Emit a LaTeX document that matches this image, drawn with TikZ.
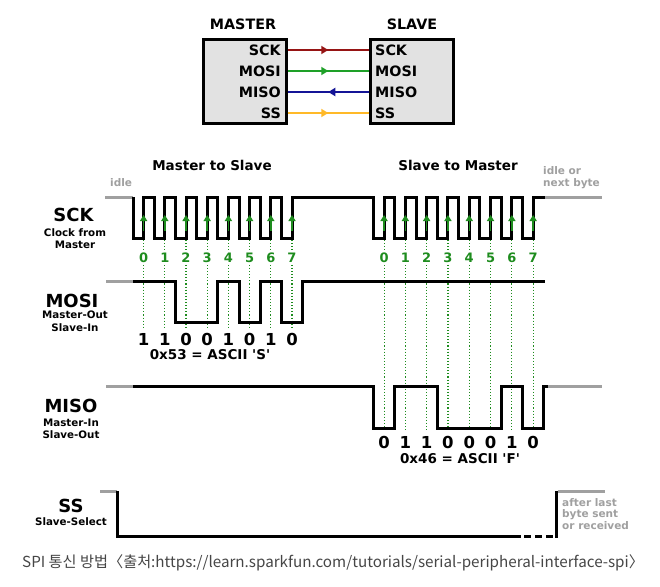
\documentclass[tikz,border=0pt]{standalone}
\usepackage{fontspec}
\setmainfont{DejaVu Sans}
\newfontfamily\krfont{Noto Sans CJK KR}
\usetikzlibrary{arrows.meta, positioning, decorations.markings}
\definecolor{sckred}{RGB}{150,20,20}
\definecolor{mosigreen}{RGB}{30,160,40}
\definecolor{misoblue}{RGB}{20,20,150}
\definecolor{ssorange}{RGB}{255,185,40}
\definecolor{edgegreen}{RGB}{30,140,30}
\definecolor{idlegray}{RGB}{160,160,160}
\definecolor{boxgray}{RGB}{226,226,226}
\definecolor{capgray}{RGB}{70,70,70}

\begin{document}
\begin{tikzpicture}[x=1pt, y=-1pt,
   every node/.style={inner sep=0pt},
   chip/.style={draw, line width=3pt, fill=boxgray,
                minimum width=83pt, minimum height=83pt},
   pin/.style={font=\fontsize{14.3}{15}\selectfont\bfseries},
   sig/.style={font=\fontsize{18}{19}\selectfont\bfseries},
   sub/.style={font=\fontsize{10.3}{12.6}\selectfont\bfseries, align=center},
   note/.style={font=\fontsize{10.5}{11.5}\selectfont\bfseries,
                text=idlegray, align=left},
   wire/.style={line width=2.8pt, postaction={decorate},
      decoration={markings, mark=at position 0.5 with
                  {\arrow{Triangle[length=7pt, width=8pt]}}}},
   wave/.style={line width=3pt},
   idle/.style={line width=3pt, idlegray},
   tick/.style={edgegreen, dotted, line width=1.1pt},
   edge/.style={edgegreen, line width=1.5pt, -{Triangle[length=6pt, width=7pt]}},
   bitnum/.style={font=\fontsize{13}{13}\selectfont\bfseries,
                  text=edgegreen, fill=white, inner sep=1pt},
   bit/.style={font=\fontsize{16.5}{16}\selectfont\bfseries},
   hex/.style={font=\fontsize{13.5}{14}\selectfont\bfseries}]
  \fill[white] (0,0) rectangle (660,586);
  \useasboundingbox (0,0) rectangle (660,586);

  % master / slave block
  \node[chip] (mbox) at (244.5,81.5) {};
  \node[chip, right=81.5pt of mbox] (sbox) {};
  \node[pin] (mtitle) at (243,24) {MASTER};
  \node[pin] (stitle) at (412,24) {SLAVE};
  \foreach \s/\y in {SCK/50, MOSI/71, MISO/92, SS/113}{
    \node[pin, anchor=east] (m\s) at (281,\y) {\s};
    \node[pin, anchor=west] (s\s) at (375,\y) {\s};
  }
  \draw[wire, sckred]    (mbox.east |- mSCK)  -- (sbox.west |- sSCK);
  \draw[wire, mosigreen] (mbox.east |- mMOSI) -- (sbox.west |- sMOSI);
  \draw[wire, misoblue]  (sbox.west |- sMISO) -- (mbox.east |- mMISO);
  \draw[wire, ssorange]  (mbox.east |- mSS)   -- (sbox.west |- sSS);

  % timing headings and notes
  \node[pin, font=\fontsize{13.5}{14}\selectfont\bfseries] (m2s) at (212,165) {Master to Slave};
  \node[pin, font=\fontsize{13.5}{14}\selectfont\bfseries] (s2m) at (458,165) {Slave to Master};
  \node[note, anchor=west] (idleL) at (110,183) {idle};
  \node[note, anchor=west] (idleR) at (543,177.5) {idle or\\next byte};
  \node[note, anchor=west] (ssend) at (562,514) {after last\\byte sent\\or received};

  % signal names
  \node[sig] (lSCK) at (73.5,215) {SCK};
  \node[sub] (dSCK) at (75,238.5) {Clock from\\Master};
  \node[sig] (lMOSI) at (72,301) {MOSI};
  \node[sub] (dMOSI) at (75,321) {Master-Out\\Slave-In};
  \node[sig] (lMISO) at (71,406) {MISO};
  \node[sub] (dMISO) at (71,429) {Master-In\\Slave-Out};
  \node[sig] (lSS) at (71,506) {SS};
  \node[sub] (dSS) at (71,521.5) {Slave-Select};

  % sample lines and bit numbers
  \foreach \i in {0,...,7}{
    \pgfmathsetmacro\ra{143.6+21.2*\i}
    \pgfmathsetmacro\rb{384.05+21.3*\i}
    \draw[tick] (\ra,240) -- (\ra,328);
    \draw[tick] (\rb,240) -- (\rb,432);
    \node[bitnum] (na\i) at (\ra,258) {\i};
    \node[bitnum] (nb\i) at (\rb,258) {\i};
  }

  % SCK
  \draw[idle] (105,197) -- (133,197);
  \draw[wave] (133,197)
    \foreach \i in {0,...,7}{ -- ({133+21.2*\i},197) -- ({133+21.2*\i},238)
                              -- ({143.6+21.2*\i},238) -- ({143.6+21.2*\i},197) }
    \foreach \i in {0,...,7}{ -- ({373.4+21.3*\i},197) -- ({373.4+21.3*\i},238)
                              -- ({384.05+21.3*\i},238) -- ({384.05+21.3*\i},197) }
    -- (545,197);
  \draw[idle] (545,197) -- (602,197);
  \foreach \i in {0,...,7}{
    \draw[edge] ({143.6+21.2*\i},231) -- ({143.6+21.2*\i},215);
    \draw[edge] ({384.05+21.3*\i},231) -- ({384.05+21.3*\i},215);
  }

  % MOSI
  \draw[idle] (106,281) -- (133,281);
  \draw[wave] (133,281) -- (175.4,281) -- (175.4,322) -- (217.8,322) -- (217.8,281)
    -- (239,281) -- (239,322) -- (260.2,322) -- (260.2,281) -- (281.4,281)
    -- (281.4,322) -- (302.6,322) -- (302.6,281) -- (545,281);
  \foreach \b [count=\i from 0] in {1,1,0,0,1,0,1,0}
    \node[bit] (mo\i) at ({143.6+21.2*\i},339) {\b};
  \node[hex] (hexS) at (210,355) {0x53 = ASCII \textquotesingle S\textquotesingle};

  % MISO
  \draw[idle] (106,386) -- (133,386);
  \draw[wave] (133,386) -- (373.4,386) -- (373.4,428) -- (394.7,428) -- (394.7,386)
    -- (437.3,386) -- (437.3,428) -- (501.2,428) -- (501.2,386) -- (522.5,386)
    -- (522.5,428) -- (543.8,428) -- (543.8,386) -- (548,386);
  \draw[idle] (548,386) -- (602,386);
  \foreach \b [count=\i from 0] in {0,1,1,0,0,0,1,0}
    \node[bit] (mi\i) at ({384.05+21.3*\i},442) {\b};
  \node[hex] (hexF) at (460,459) {0x46 = ASCII \textquotesingle F\textquotesingle};

  % SS
  \draw[idle] (100,491) -- (117,491);
  \draw[wave] (117,491) -- (117,536) -- (521,536);
  \draw[wave, dash pattern=on 7pt off 4pt] (524,536) -- (553,536);
  \draw[wave] (556,537.5) -- (556,491);
  \draw[idle] (557.5,491) -- (605,491);

  \node[font=\krfont\fontsize{15.2}{16}\selectfont, text=capgray, anchor=west] (cap)
    at (22,563) {SPI 통신 방법〈출처:https://learn.sparkfun.com/tutorials/serial-peripheral-interface-spi〉};
\end{tikzpicture}
\end{document}
